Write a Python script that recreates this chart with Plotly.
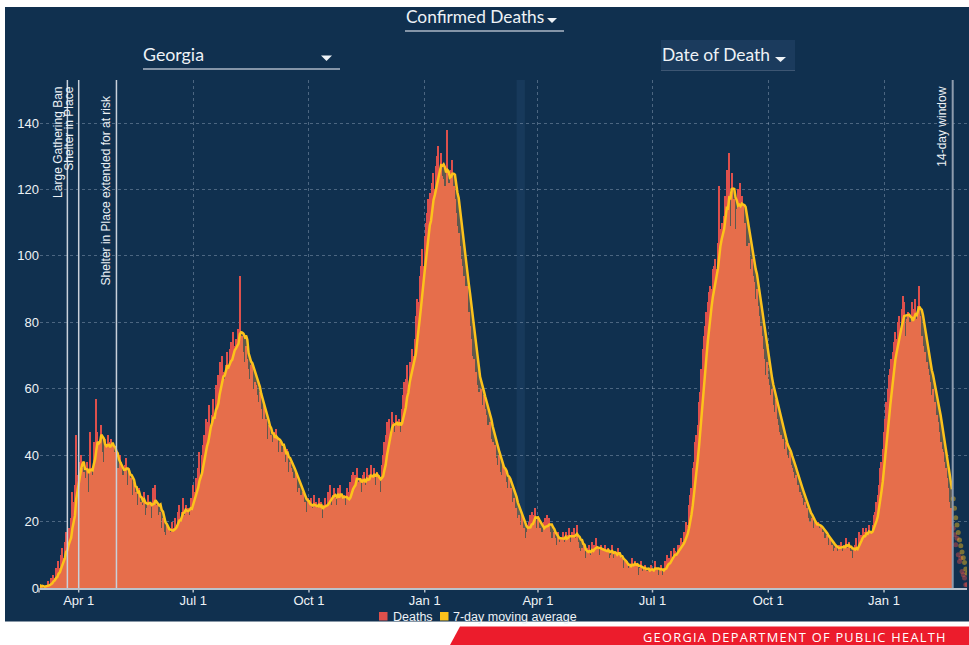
import pandas as pd
import plotly.graph_objects as go

# ---------------- data ----------------
START_DATE = "2020-03-01"
# daily confirmed deaths in Georgia by date of death, from START_DATE
deaths = [
    1, 0, 1, 0,
    0, 1, 1, 2, 1, 3, 2,
    4, 3, 6, 4, 8, 6, 10,
    12, 9, 14, 17, 11, 18, 16,
    21, 29, 26, 31, 46, 34, 38,
    37, 40, 36, 35, 31, 33, 38,
    29, 47, 36, 34, 44, 43, 57,
    47, 44, 39, 49, 41, 38, 45,
    43, 46, 40, 44, 45, 43, 38,
    41, 37, 36, 31, 40, 38, 34,
    33, 37, 39, 31, 36, 29, 33,
    28, 32, 26, 29, 25, 30, 23,
    26, 25, 29, 22, 24, 28, 25,
    26, 21, 30, 24, 31, 25, 22,
    21, 23, 18, 21, 17, 16, 19,
    15, 18, 17, 20, 16, 18, 21,
    19, 23, 25, 20, 23, 27, 22,
    25, 21, 24, 22, 27, 26, 31,
    29, 33, 30, 36, 41, 33, 40,
    43, 46, 51, 45, 50, 55, 49,
    52, 57, 51, 61, 55, 64, 68,
    63, 70, 65, 63, 67, 71, 66,
    72, 74, 68, 77, 73, 75, 70,
    78, 94, 72, 76, 71, 68, 73,
    69, 66, 63, 67, 68, 60, 62,
    61, 58, 56, 59, 54, 51, 55,
    48, 51, 45, 49, 43, 46, 44,
    47, 43, 48, 45, 41, 44, 40,
    41, 43, 38, 37, 42, 35, 38,
    36, 35, 33, 31, 35, 29, 30,
    27, 28, 29, 25, 26, 23, 27,
    25, 22, 27, 24, 28, 21, 26,
    24, 27, 22, 26, 21, 25, 27,
    25, 29, 26, 31, 25, 28, 30,
    27, 25, 30, 26, 31, 28, 24,
    28, 25, 30, 23, 29, 32, 34,
    35, 30, 34, 36, 29, 32, 33,
    29, 34, 35, 31, 36, 30, 34,
    37, 33, 34, 36, 31, 35, 30,
    34, 29, 37, 40, 44, 46, 50,
    48, 51, 45, 53, 50, 47, 52,
    50, 46, 51, 47, 54, 58, 62,
    63, 67, 61, 68, 66, 72, 70,
    75, 82, 87, 86, 94, 97, 102,
    97, 106, 110, 113, 117, 119, 112,
    122, 125, 120, 127, 130, 133, 125,
    131, 124, 123, 121, 119, 138, 122,
    118, 126, 129, 121, 117, 113, 109,
    107, 103, 99, 97, 94, 91, 86,
    91, 83, 79, 75, 70, 69, 64,
    65, 61, 59, 57, 60, 55, 58,
    54, 52, 49, 47, 50, 45, 44,
    42, 43, 39, 37, 40, 35, 34,
    37, 33, 36, 32, 30, 33, 29,
    30, 26, 27, 23, 24, 21, 22,
    19, 22, 17, 18, 15, 17, 19,
    20, 22, 23, 19, 22, 24, 18,
    21, 17, 18, 17, 15, 20, 21,
    22, 18, 21, 17, 15, 14, 17,
    15, 13, 17, 14, 15, 14, 17,
    14, 17, 13, 16, 18, 14, 17,
    13, 18, 15, 19, 14, 12, 11,
    12, 10, 13, 9, 12, 9, 13,
    10, 14, 11, 13, 15, 10, 12,
    10, 13, 9, 12, 13, 10, 11,
    12, 9, 10, 13, 9, 11, 10,
    8, 12, 10, 7, 9, 6, 8,
    5, 8, 6, 7, 6, 9, 7,
    8, 6, 7, 4, 6, 8, 5,
    6, 7, 4, 5, 6, 4, 7,
    6, 5, 8, 5, 6, 4, 5,
    7, 4, 6, 8, 7, 10, 9,
    8, 11, 9, 12, 11, 10, 13,
    12, 13, 15, 14, 17, 16, 20,
    19, 25, 28, 30, 36, 38, 44,
    46, 49, 56, 59, 66, 72, 76,
    79, 83, 86, 89, 91, 90, 96,
    97, 99, 96, 104, 121, 108, 110,
    106, 112, 118, 126, 120, 131, 109,
    125, 113, 117, 108, 114, 120, 111,
    122, 118, 115, 107, 110, 103, 100,
    104, 96, 99, 94, 92, 87, 90,
    85, 82, 79, 76, 72, 69, 64,
    68, 63, 61, 58, 60, 55, 53,
    57, 51, 49, 47, 46, 43, 45,
    42, 44, 40, 39, 41, 37, 36,
    35, 33, 34, 30, 31, 29, 28,
    27, 25, 26, 23, 24, 21, 20,
    19, 21, 18, 20, 19, 17, 20,
    18, 19, 16, 17, 15, 14, 16,
    13, 15, 12, 13, 11, 12, 13,
    11, 13, 12, 14, 11, 13, 12,
    15, 12, 14, 10, 11, 9, 12,
    13, 15, 12, 17, 14, 16, 18,
    17, 15, 18, 16, 19, 15, 17,
    19, 22, 23, 26, 28, 31, 36,
    38, 42, 47, 51, 56, 60, 64,
    66, 69, 71, 74, 77, 75, 80,
    82, 78, 84, 88, 86, 76, 81,
    83, 78, 80, 86, 79, 84, 87,
    81, 85, 91, 82, 76, 73, 70,
    71, 68, 66, 64, 62, 58, 60,
    55, 56, 52, 50, 47, 44, 42,
    41, 38, 36, 33, 30,
    26, 24, 21,
    # last 14-day window (incomplete)
    18, 16, 13, 15, 10, 8, 9, 5, 4, 3, 1, 1,
]
COMPLETE_DAYS = 726

event_dates = ["2020-03-23", "2020-04-01", "2020-05-01"]
event_labels = ["Large Gathering Ban", "Shelter in Place",
                "Shelter in Place extended for at risk"]
window_date = "2022-02-24 14:00"
window_label = "14-day window"

tick_dates = ["2020-04-01", "2020-07-01", "2020-10-01", "2021-01-01",
              "2021-04-01", "2021-07-01", "2021-10-01", "2022-01-01"]
tick_labels = ["Apr 1", "Jul 1", "Oct 1", "Jan 1",
               "Apr 1", "Jul 1", "Oct 1", "Jan 1"]
y_ticks = [0, 20, 40, 60, 80, 100, 120, 140]
legend_names = ["Deaths", "7-day moving average"]

# ---------------- styling ----------------
W, H = 969, 645
ML, MR, MT, MB = 40, 2, 80, 57
PW, PH = W - ML - MR, H - MT - MB

NAVY = "#10304f"
RED = "#de504c"
GOLD = "#fcc21b"
FILL = "rgba(245,165,75,0.35)"
GRID = "rgba(150,168,190,0.45)"
TXT = "#eef2f6"
AXIS = "#b9c2cc"


def px(x):
    return (x - ML) / PW


def py(y):
    return (H - MB - y) / PH


dates = pd.date_range(START_DATE, periods=len(deaths), freq="D")
series = pd.Series(deaths, index=dates, dtype=float)
ma = series.rolling(7, min_periods=1).mean()
n = COMPLETE_DAYS

fig = go.Figure()
fig.add_trace(go.Bar(x=dates[:n], y=deaths[:n], name=legend_names[0],
                     marker=dict(color=RED, line=dict(width=0)),
                     showlegend=False))
fig.add_trace(go.Scatter(x=dates[:n], y=ma.values[:n], mode="lines",
                         name=legend_names[1],
                         line=dict(color=GOLD, width=2.5),
                         fill="tozeroy", fillcolor=FILL, showlegend=False))
fig.add_trace(go.Scatter(x=dates[n:], y=deaths[n:], mode="markers",
                         marker=dict(color=RED, size=5, opacity=0.45),
                         showlegend=False))
fig.add_trace(go.Scatter(x=dates[n:], y=ma.values[n:], mode="markers",
                         marker=dict(color=GOLD, size=5, opacity=0.45),
                         showlegend=False))

shapes = [
    dict(type="rect", xref="paper", yref="paper", layer="below",
         x0=px(5), x1=px(W), y0=py(621.5), y1=py(7),
         fillcolor=NAVY, line=dict(width=0)),
    dict(type="rect", xref="x", yref="paper", layer="below",
         x0="2021-03-15", x1="2021-03-21 14:00", y0=0, y1=1,
         fillcolor="#17395b", line=dict(width=0)),
    # Date of Death box
    dict(type="rect", xref="paper", yref="paper", layer="below",
         x0=px(661), x1=px(795), y0=py(70), y1=py(40),
         fillcolor="#1b3b5d", line=dict(width=0)),
    dict(type="line", xref="paper", yref="paper",
         x0=px(661), x1=px(795), y0=py(70.5), y1=py(70.5),
         line=dict(color="#3d5673", width=1)),
    # underlines
    dict(type="line", xref="paper", yref="paper",
         x0=px(405), x1=px(564), y0=py(31), y1=py(31),
         line=dict(color="#8595a8", width=2)),
    dict(type="line", xref="paper", yref="paper",
         x0=px(143), x1=px(340), y0=py(69), y1=py(69),
         line=dict(color="#8595a8", width=2)),
    # legend squares
    dict(type="rect", xref="paper", yref="paper",
         x0=px(379), x1=px(387.5), y0=py(620.5), y1=py(612),
         fillcolor=RED, line=dict(width=0)),
    dict(type="rect", xref="paper", yref="paper",
         x0=px(440), x1=px(448.5), y0=py(620.5), y1=py(612),
         fillcolor=GOLD, line=dict(width=0)),
    # tick mark at the axis start
    dict(type="line", xref="paper", yref="paper", x0=px(39), x1=px(39),
         y0=0, y1=py(592.5), line=dict(color=AXIS, width=1.5)),
]
# x tick marks
for d in tick_dates:
    shapes.append(dict(type="line", xref="x", yref="paper", x0=d, x1=d,
                       y0=0, y1=py(592.5), line=dict(color=AXIS, width=1.5)))


def tri(x0, x1, y0, y1):
    xm = (x0 + x1) / 2
    return dict(type="path", xref="paper", yref="paper",
                path=f"M {px(x0)},{py(y0)} L {px(x1)},{py(y0)} L {px(xm)},{py(y1)} Z",
                fillcolor=TXT, line=dict(width=0))


shapes += [tri(547, 557, 18, 23), tri(321, 332, 55.5, 61), tri(775, 786, 57, 62)]

# red banner
shapes.append(dict(type="path", xref="paper", yref="paper",
                   path=(f"M {px(460)},{py(626.5)} L {px(W)},{py(626.5)} "
                         f"L {px(W)},{py(H)} L {px(450)},{py(H)} Z"),
                   fillcolor="#ec1c2c", line=dict(width=0)))

for d in event_dates:
    shapes.append(dict(type="line", xref="x", yref="paper", x0=d, x1=d,
                       y0=0, y1=1, line=dict(color="#c9d1db", width=1.5)))
shapes.append(dict(type="line", xref="x", yref="paper", x0=window_date,
                   x1=window_date, y0=0, y1=1,
                   line=dict(color="#8e9cae", width=2)))

annotations = []
label_tops = [85, 85, 93]
for d, lab, top in zip(event_dates, event_labels, label_tops):
    annotations.append(dict(x=d, xref="x", y=py(top), yref="paper",
                            text=lab, textangle=-90, showarrow=False,
                            xanchor="right", yanchor="top", xshift=-1,
                            font=dict(family="Liberation Sans, Arial",
                                      size=12, color=TXT)))
annotations.append(dict(x=window_date, xref="x", y=py(85), yref="paper",
                        text=window_label, textangle=-90, showarrow=False,
                        xanchor="right", yanchor="top", xshift=-2,
                        font=dict(family="Liberation Sans, Arial",
                                  size=12, color=TXT)))

# legend texts
annotations += [
    dict(x=px(391), y=py(616.5), xref="paper", yref="paper", showarrow=False,
         text=legend_names[0], xanchor="left", yanchor="middle",
         font=dict(family="Liberation Sans, Arial", size=12.5, color=TXT)),
    dict(x=px(451), y=py(616.5), xref="paper", yref="paper", showarrow=False,
         text=legend_names[1], xanchor="left", yanchor="middle",
         font=dict(family="Liberation Sans, Arial", size=12.5, color=TXT)),
]

hdr_font = dict(family="Lato, Open Sans, sans-serif", color=TXT)
annotations += [
    dict(x=px(404), y=py(16.5), xref="paper", yref="paper", showarrow=False,
         text="Confirmed Deaths", xanchor="left", yanchor="middle",
         font=dict(size=17.3, **hdr_font)),
    dict(x=px(141), y=py(53.5), xref="paper", yref="paper", showarrow=False,
         text="Georgia", xanchor="left", yanchor="middle",
         font=dict(size=17.8, **hdr_font)),
    dict(x=px(660), y=py(54.5), xref="paper", yref="paper", showarrow=False,
         text="Date of Death", xanchor="left", yanchor="middle",
         font=dict(size=17.4, **hdr_font)),
    dict(x=px(948), y=py(636.5), xref="paper", yref="paper", showarrow=False,
         text="\u200a".join("GEORGIA DEPARTMENT OF PUBLIC HEALTH"),
         xanchor="right", yanchor="middle",
         font=dict(family="Open Sans, Lato, sans-serif", size=12.8,
                   color="#ffffff")),
]

fig.update_layout(
    width=W, height=H,
    margin=dict(l=ML, r=MR, t=MT, b=MB, pad=0, autoexpand=False),
    paper_bgcolor="#ffffff",
    plot_bgcolor="rgba(0,0,0,0)",
    font=dict(family="Liberation Sans, Arial, sans-serif", size=13, color=TXT),
    barmode="overlay", bargap=0, showlegend=False,
    shapes=shapes, annotations=annotations,
    xaxis=dict(type="date",
               range=["2020-03-01 05:46", "2022-03-07 22:48"],
               tickmode="array", tickvals=tick_dates, ticktext=tick_labels,
               showgrid=True, gridcolor=GRID, griddash="dot", gridwidth=1,
               showline=True, linecolor=AXIS, linewidth=1.5,
               ticks="", tickfont=dict(size=13, color=TXT), zeroline=False,
               fixedrange=True),
    yaxis=dict(range=[0, 152.95], tickmode="array", tickvals=y_ticks,
               showgrid=True, gridcolor=GRID, griddash="dot", gridwidth=1,
               zeroline=False, showline=False, ticks="",
               tickfont=dict(size=13, color=TXT), fixedrange=True),
)

fig.write_html("out.html",
               config={"displayModeBar": False},
               post_script="document.body.style.margin='0';"
                           "document.body.style.overflow='hidden';")
